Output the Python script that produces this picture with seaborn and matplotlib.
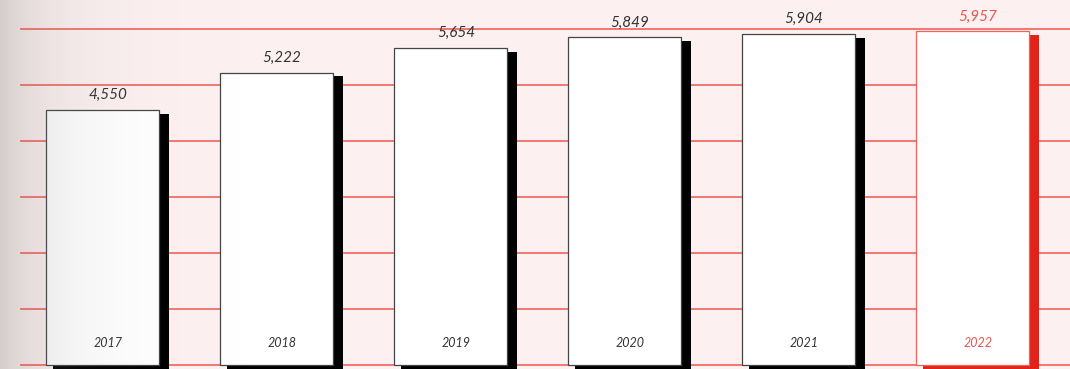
import numpy as np
import matplotlib
matplotlib.use("Agg")
import matplotlib.pyplot as plt
import seaborn as sns

# chart data
years = ["2017", "2018", "2019", "2020", "2021", "2022"]
values = [4550, 5222, 5654, 5849, 5904, 5957]
value_labels = ["4,550", "5,222", "5,654", "5,849", "5,904", "5,957"]
grid_ticks = [0, 1000, 2000, 3000, 4000, 5000, 6000]

BG = "#fcf1f0"
RED = "#e2231a"
RED_LINE = "#f0635c"
RED_TEXT = "#ea5550"
INK = "#333333"

sns.set_theme(style="white")
plt.rcParams["font.family"] = ["Lato", "DejaVu Sans"]

W, H, DPI = 1070, 369, 100
fig = plt.figure(figsize=(W / DPI, H / DPI), dpi=DPI, facecolor=BG)

# main axes starts 20px in from the left edge
ax = fig.add_axes([20 / W, 0, 1 - 20 / W, 1])
ax.set_facecolor("none")

bar_w = 0.65
x_pos = np.arange(len(years))

# pixel -> data helpers
px_x = 1 / 174.0          # x units per pixel
ylim = (-71, 6518)
px_y = (ylim[1] - ylim[0]) / H

# gridlines
for t in grid_ticks:
    ax.axhline(t, color=RED_LINE, lw=1.2, zorder=1)

# drop shadows, offset right/down from each bar
shadow_colors = ["black"] * (len(years) - 1) + [RED]
sh_vals = np.array(values) - 3.5 * px_y
ax.bar(x_pos + 8.5 * px_x, sh_vals + 400, width=bar_w + 3 * px_x,
       bottom=-400, color=shadow_colors, linewidth=0, zorder=2)

# main bars
sns.barplot(x=years, y=values, color="white", width=bar_w, edgecolor="#444444",
            linewidth=0.9, saturation=1, ax=ax, zorder=3)
for p in ax.patches[len(years):]:
    p.set_zorder(3)
ax.patches[-1].set_edgecolor(RED_LINE)

# value labels above bars and year labels inside bars
for i, (v, lab, yr) in enumerate(zip(values, value_labels, years)):
    c = RED_TEXT if i == len(years) - 1 else INK
    ax.annotate(lab, (i, v), xytext=(4, 10.8), textcoords="offset points",
                ha="center", va="center", fontsize=11, style="italic", color=c, zorder=5)
    ax.annotate(yr, (i, 0), xytext=(4, 16.2), textcoords="offset points",
                ha="center", va="center", fontsize=9, style="italic", color=c, zorder=5)

ax.set_xlim(-82.5 * px_x, -82.5 * px_x + 1050 * px_x)
ax.set_ylim(*ylim)
ax.set_xlabel("")
ax.set_ylabel("")
ax.set_xticks([])
ax.set_yticks([])
sns.despine(ax=ax, left=True, bottom=True)

# soft grey shading along the left edge
ov = fig.add_axes([0, 0, 1, 1], zorder=10)
xs = np.arange(W)
alpha = 0.31 * np.exp(-xs / 55.0)
rgba = np.zeros((1, W, 4))
rgba[..., :3] = 0.5
rgba[0, :, 3] = alpha
ov.imshow(rgba, aspect="auto", extent=[0, 1, 0, 1])
ov.set_axis_off()

fig.savefig("out.png", dpi=DPI, facecolor=BG)
